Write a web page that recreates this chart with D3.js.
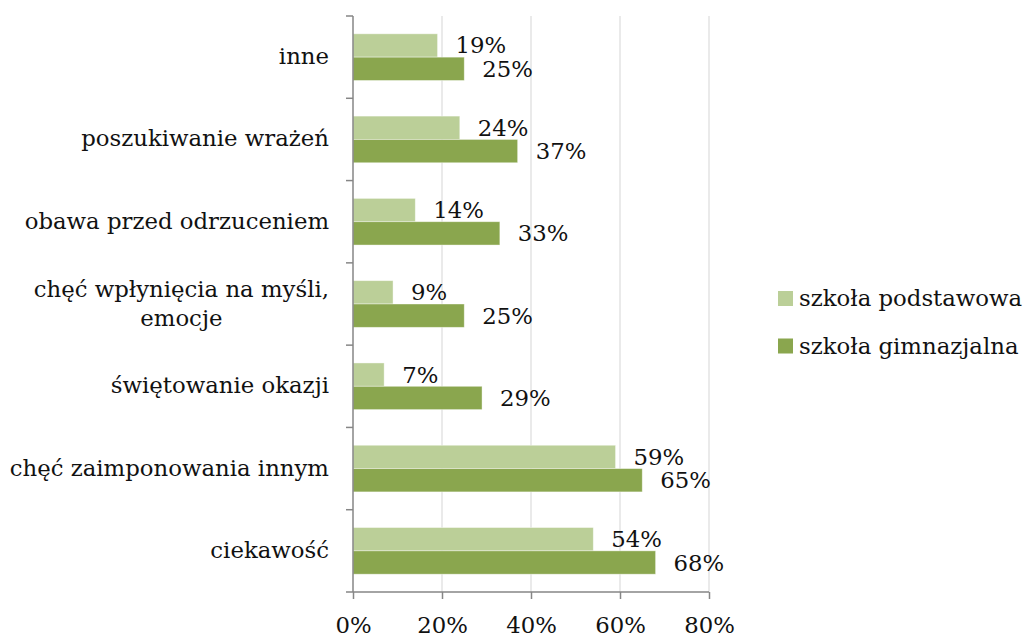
<!DOCTYPE html>
<html lang="pl">
<head>
<meta charset="UTF-8">
<title>Motywy</title>
<script src="https://d3js.org/d3.v7.min.js"></script>
<style>
    body { margin: 0; background: #fff; }
    text { font-family: "DejaVu Serif", serif; font-size: 22.8px; fill: #111; }
    .bar-podst { fill: #bbcf98; }
    .bar-gimn { fill: #8aa64e; }
</style>
</head>
<body>
<svg id="chart" width="1023" height="637"></svg>
<script>
    // data, top to bottom as in the picture
    const categories = ["inne", "poszukiwanie wrażeń", "obawa przed odrzuceniem",
        "chęć wpłynięcia na myśli,\nemocje", "świętowanie okazji",
        "chęć zaimponowania innym", "ciekawość"];
    const podstawowa = [19, 24, 14, 9, 7, 59, 54];
    const gimnazjalna = [25, 37, 33, 25, 29, 65, 68];
    const seriesNames = ["szkoła podstawowa", "szkoła gimnazjalna"];
    const xTicks = [0, 20, 40, 60, 80];

    const svg = d3.select("#chart");
    const plotLeft = 353, plotRight = 709, plotTop = 16, plotBottom = 592;

    const x = d3.scaleLinear().domain([0, 80]).range([plotLeft, plotRight]);
    const y = d3.scaleBand().domain(categories).range([plotTop, plotBottom])
        .paddingInner(0.433).paddingOuter(0.2165);
    const ySub = d3.scaleBand().domain(["podst", "gimn"]).range([0, y.bandwidth()]);

    // gridlines
    svg.append("g").selectAll("line")
        .data(xTicks.slice(1))
        .enter().append("line")
        .attr("x1", d => x(d)).attr("x2", d => x(d))
        .attr("y1", plotTop).attr("y2", plotBottom)
        .attr("stroke", "#e3e3e3").attr("stroke-width", 1.5);

    const data = [];
    categories.forEach((c, i) => {
        data.push({cat: c, key: "podst", value: podstawowa[i]});
        data.push({cat: c, key: "gimn", value: gimnazjalna[i]});
    });

    svg.append("g").selectAll("rect")
        .data(data)
        .enter().append("rect")
        .attr("class", d => "bar-" + d.key)
        .attr("x", x(0))
        .attr("y", d => y(d.cat) + ySub(d.key))
        .attr("width", d => x(d.value) - x(0))
        .attr("height", ySub.bandwidth())
        .attr("stroke", "#fff").attr("stroke-opacity", 0.5).attr("stroke-width", 0.8);

    // value labels
    svg.append("g").selectAll("text")
        .data(data)
        .enter().append("text")
        .attr("x", d => x(d.value) + 18)
        .attr("y", d => y(d.cat) + ySub(d.key) + ySub.bandwidth() / 2 + 8)
        .text(d => d.value + "%");

    // axes
    const axisColor = "#868686";
    const gx = svg.append("g")
        .attr("transform", `translate(0,${plotBottom})`)
        .call(d3.axisBottom(x).tickValues(xTicks).tickFormat(d => d + "%").tickSize(7).tickPadding(0));
    gx.select(".domain").attr("stroke", axisColor).attr("stroke-width", 1.5).attr("d", `M${plotLeft},0H${plotRight}`);
    gx.selectAll(".tick line").attr("stroke", axisColor).attr("stroke-width", 1.5);
    gx.selectAll(".tick text").attr("font-size", null).attr("font-family", null)
        .attr("y", 41).attr("dy", null).attr("fill", "#111");

    const gy = svg.append("g");
    gy.append("line").attr("x1", plotLeft).attr("x2", plotLeft).attr("y1", plotTop).attr("y2", plotBottom)
        .attr("stroke", axisColor).attr("stroke-width", 1.5);
    gy.selectAll("line.tk")
        .data(d3.range(categories.length + 1).map(i => plotTop + i * y.step()))
        .enter().append("line").attr("class", "tk")
        .attr("x1", plotLeft - 7).attr("x2", plotLeft).attr("y1", d => d).attr("y2", d => d)
        .attr("stroke", axisColor).attr("stroke-width", 1.5);

    // category labels
    categories.forEach(c => {
        const lines = c.split("\n");
        const cy = y(c) + y.bandwidth() / 2;
        const lh = 29;
        const t = svg.append("text").attr("text-anchor", "middle");
        lines.forEach((ln, j) => {
            t.append("tspan").attr("y", cy + 7 + (j - (lines.length - 1) / 2) * lh).text(ln);
        });
        let w = 0;
        t.selectAll("tspan").each(function() { w = Math.max(w, this.getComputedTextLength()); });
        t.selectAll("tspan").attr("x", 329 - w / 2);
    });

    // legend
    const lg = svg.append("g").attr("transform", "translate(778,291)");
    seriesNames.forEach((s, i) => {
        lg.append("rect").attr("x", 0).attr("y", i * 47.5).attr("width", 15).attr("height", 15)
            .attr("class", i === 0 ? "bar-podst" : "bar-gimn");
        lg.append("text").attr("x", 21).attr("y", i * 47.5 + 15).attr("font-size", "22px").text(s);
    });
</script>
</body>
</html>
